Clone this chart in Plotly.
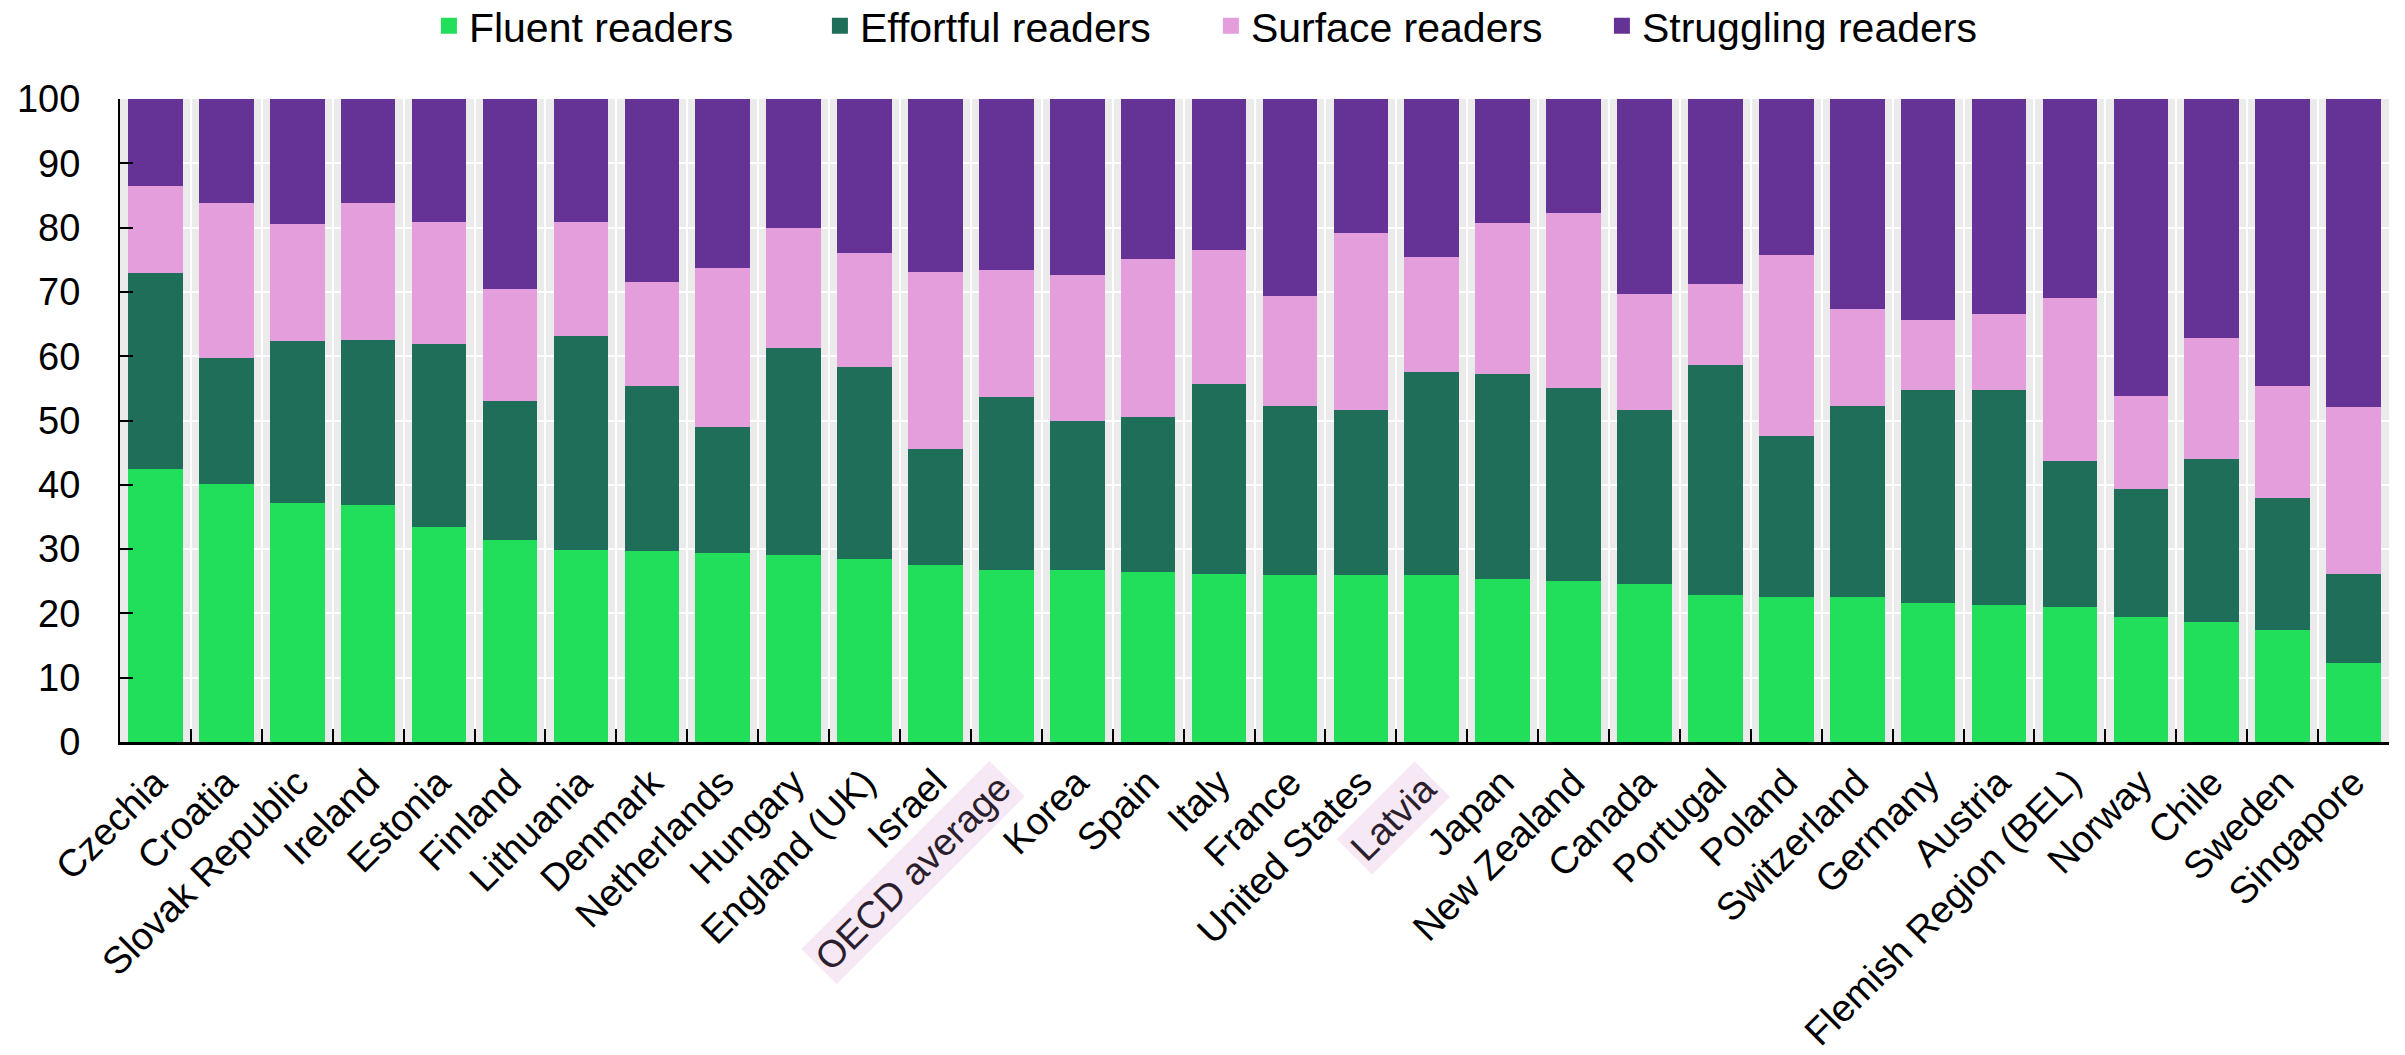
import plotly.graph_objects as go

countries = ["Czechia", "Croatia", "Slovak Republic", "Ireland", "Estonia", "Finland",
             "Lithuania", "Denmark", "Netherlands", "Hungary", "England (UK)", "Israel",
             "OECD average", "Korea", "Spain", "Italy", "France", "United States", "Latvia",
             "Japan", "New Zealand", "Canada", "Portugal", "Poland", "Switzerland", "Germany",
             "Austria", "Flemish Region (BEL)", "Norway", "Chile", "Sweden", "Singapore"]

fluent = [42.5, 40.1, 37.2, 36.8, 33.5, 31.4, 29.8, 29.7, 29.4, 29.1, 28.5, 27.5,
          26.7, 26.7, 26.4, 26.2, 26.0, 26.0, 25.9, 25.4, 25.0, 24.5, 22.9, 22.6,
          22.6, 21.6, 21.3, 21.0, 19.4, 18.7, 17.4, 12.3]
effortful = [30.4, 19.6, 25.1, 25.7, 28.4, 21.6, 33.4, 25.7, 19.6, 32.2, 29.8, 18.1,
             27.0, 23.3, 24.2, 29.4, 26.3, 25.7, 31.6, 31.8, 30.0, 27.2, 35.8, 25.0,
             29.7, 33.1, 33.5, 22.7, 19.9, 25.3, 20.6, 13.8]
surface = [13.6, 24.1, 18.3, 21.3, 19.0, 17.4, 17.6, 16.2, 24.7, 18.7, 17.7, 27.5,
           19.7, 22.6, 24.5, 20.9, 17.0, 27.5, 18.0, 23.5, 27.2, 18.0, 12.6, 28.2,
           15.1, 11.0, 11.7, 25.4, 14.5, 18.8, 17.4, 26.0]
struggling = [13.5, 16.2, 19.4, 16.2, 19.1, 29.6, 19.2, 28.4, 26.3, 20.0, 24.0, 26.9,
              26.6, 27.4, 24.9, 23.5, 30.7, 20.8, 24.5, 19.3, 17.8, 30.3, 28.7, 24.2,
              32.6, 34.3, 33.5, 30.9, 46.2, 37.2, 44.6, 47.9]

series_names = ["Fluent readers", "Effortful readers", "Surface readers", "Struggling readers"]
series_colors = ["#21DF5A", "#1F6E5A", "#E49EDC", "#653396"]
highlighted = ["OECD average", "Latvia"]
y_ticks = [0, 10, 20, 30, 40, 50, 60, 70, 80, 90, 100]

FONT = "Arial, Liberation Sans, sans-serif"

fig = go.Figure()
for name, vals, col in zip(series_names, [fluent, effortful, surface, struggling], series_colors):
    fig.add_trace(go.Bar(x=countries, y=vals, name=name, legendgroup=name,
                         showlegend=False,
                         marker=dict(color=col, line=dict(width=0))))
# legend entries (larger square keys)
for name, col in zip(series_names, series_colors):
    fig.add_trace(go.Scatter(x=[None], y=[None], mode="markers", name=name,
                             legendgroup=name, showlegend=True,
                             marker=dict(symbol="square", size=16, color=col)))

ticktext = ["" if c in highlighted else c for c in countries]

fig.update_layout(
    width=2405, height=1055,
    barmode="stack", bargap=0.23,
    plot_bgcolor="#EBEBEB", paper_bgcolor="white",
    margin=dict(l=120, r=16, t=99, b=313, autoexpand=False),
    font=dict(family=FONT, size=38, color="black"),
    showlegend=True,
    legend=dict(orientation="h", traceorder="normal", itemsizing="trace",
                xref="container", x=0.5035, xanchor="center",
                yref="container", y=1 - 26 / 1055, yanchor="middle",
                font=dict(family=FONT, size=41, color="black"),
                entrywidth=346, entrywidthmode="pixels",
                bgcolor="rgba(0,0,0,0)"),
    xaxis=dict(type="category", categoryorder="array", categoryarray=countries,
               tickmode="array", tickvals=countries, ticktext=ticktext,
               tickangle=-45, tickson="boundaries",
               ticks="inside", ticklen=13, tickwidth=2, tickcolor="black",
               showline=True, linecolor="black", linewidth=3,
               showgrid=True, gridcolor="white", gridwidth=2,
               tickfont=dict(family=FONT, size=38, color="black"),
               automargin=False),
    yaxis=dict(range=[0, 100], tickmode="array", tickvals=y_ticks,
               ticks="inside", ticklen=13, tickwidth=2, tickcolor="black",
               showline=True, linecolor="black", linewidth=2,
               showgrid=True, gridcolor="white", gridwidth=2, zeroline=False,
               tickfont=dict(family=FONT, size=38, color="black"),
               ticklabelstandoff=30,
               automargin=False),
)

for c in highlighted:
    fig.add_annotation(x=c, xref="x", y=0, yref="y", text=c, textangle=-45,
                       xanchor="right", yanchor="top", xshift=18, yshift=-19,
                       showarrow=False, bgcolor="#F7E8F6", borderpad=4, borderwidth=0,
                       font=dict(family=FONT, size=38, color="#2B1F2E"))

fig.write_html("out.html", config={"displayModeBar": False},
               post_script="document.body.style.margin='0';document.body.style.overflow='hidden';")
